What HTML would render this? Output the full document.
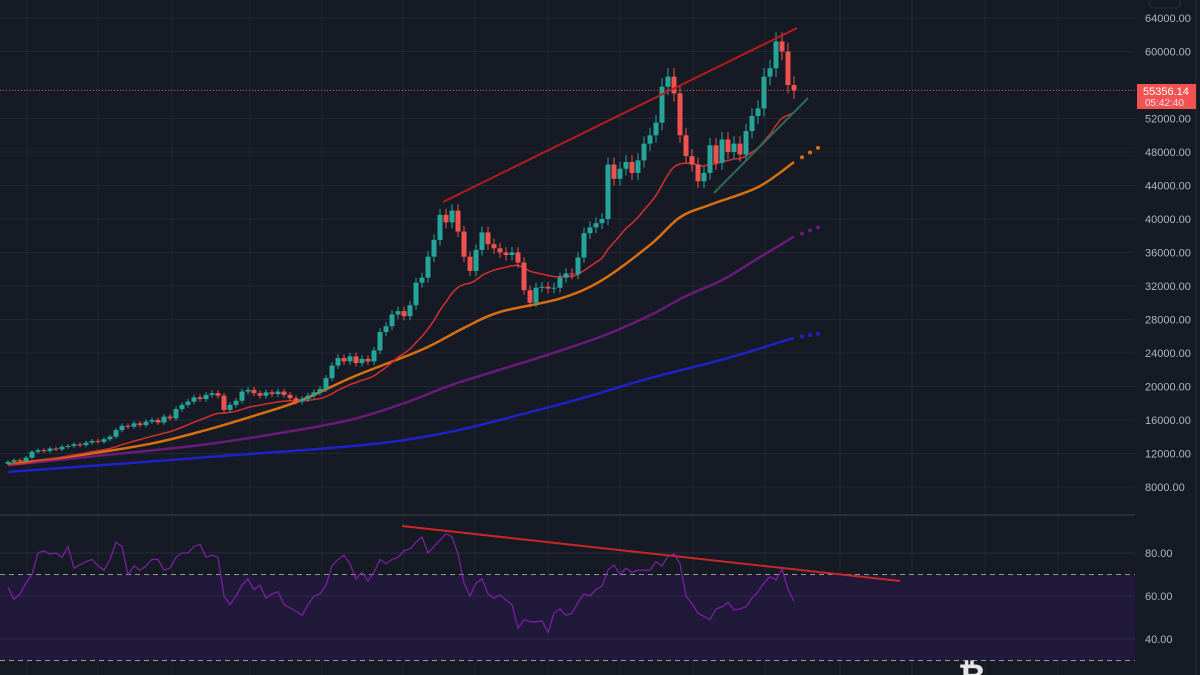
<!DOCTYPE html>
<html><head><meta charset="utf-8"><style>
html,body{margin:0;padding:0;background:#161a25;}
svg{display:block;font-family:"Liberation Sans",sans-serif;}
</style></head><body>
<svg id="c" width="1200" height="675" viewBox="0 0 1200 675"></svg>
<script>
const closes=[11000,11200,11100,11500,12200,12400,12300,12600,12500,12800,
12900,13100,13000,13300,13500,13400,13700,14000,14800,15300,
15200,15600,15400,15800,16000,15700,16400,16200,17300,17800,
18200,18700,18500,19000,19200,18900,17200,17800,18300,19400,
19600,19200,18900,19300,19100,19400,19000,18600,18200,18500,
18900,19300,19700,21000,22500,23400,23000,23600,22800,23300,
23000,24300,26500,27200,28600,29000,28400,29700,32400,33000,
35500,37500,40500,39600,41000,38500,35500,33800,36300,38400,
37000,36500,36000,35700,36000,34800,31500,30000,31800,31900,
31700,31800,33000,33500,33400,35400,38300,39000,39500,40000,
46500,44800,46000,46800,45500,47000,49000,50000,51500,55800,
57000,55000,50000,47500,46500,44500,45500,48800,46700,49500,
48000,49000,47700,50500,52300,53200,57000,58000,61200,60000,56000,55356];
const rsi=[64,58.5,61,66,70,80,81,79.5,80,78,83,73,74.5,76,77,74,72,77,85,83,
70,74,72,74,77,77,72,73,78,80,80,83,84,78,79,78,60,56,60,65,
68,63,65,59,61,62,56,54.5,53,51,56,60,61,65,74,77,79,75,68,71,
67,71,77,75,77,78,81,82,85,87.5,80,83,86,89,87.5,79.5,66,60,66,68,
61,59,60.5,58,56,45,49,48,48,48.5,43,52,54,51,52,57,61,60,63,64.5,
72,74.5,70,73,71,72,72,72,76,74,78.5,79.5,75,60,56.5,52,50.5,49,54,55,
57,53.5,54,55,59,62,66,69,67.5,72.5,63,57.5];
// moving averages sampled at candle indices
const orangeIdx=[0,12,24,33,41,49,58,69,76,82,92,99,107,112,117,125,131,135];
const orangeMA=[10700,11800,13200,14800,16500,18400,21300,24400,27000,28900,30500,32700,36900,40200,41700,43800,46800,48500];
const purpleIdx=[0,16,32,45,57,66,74,82,90,99,107,113,119,125,131,135];
const purpleMA=[10600,11800,13000,14400,16000,18000,20200,22000,23800,26000,28500,30800,32700,35300,37900,39000];
const blueIdx=[0,32,66,90,107,119,131,135];
const blueMA=[9800,11500,13600,17500,21000,23200,25800,26300];
const priceTicks=[64000,60000,52000,48000,44000,40000,36000,32000,28000,24000,20000,16000,12000,8000];
const rsiTicks=[80,60,40];
const lastPrice="55356.14", countdown="05:42:40";

const S=document.getElementById('c');const NS='http://www.w3.org/2000/svg';
function mk(t,a,p){const e=document.createElementNS(NS,t);for(const k in a)e.setAttribute(k,a[k]);(p||S).appendChild(e);return e;}
const X=i=>8+6*i;
const Y=v=>18+(64000-v)/4000*33.5;
const RY=v=>553+(80-v)/20*43;
function smooth(pts){let d='M'+pts[0][0]+','+pts[0][1];
 for(let i=0;i<pts.length-1;i++){const p0=pts[i-1]||pts[i],p1=pts[i],p2=pts[i+1],p3=pts[i+2]||p2;
  const c1=[p1[0]+(p2[0]-p0[0])/6,p1[1]+(p2[1]-p0[1])/6],c2=[p2[0]-(p3[0]-p1[0])/6,p2[1]-(p3[1]-p1[1])/6];
  d+='C'+c1[0]+','+c1[1]+' '+c2[0]+','+c2[1]+' '+p2[0]+','+p2[1];}return d;}
// grid
const gx=[27,98,172,250,322,403,475,548,620,693,765,840,912,985,1058];
gx.forEach(x=>{mk('line',{x1:x,y1:0,x2:x,y2:675,stroke:'#232734','stroke-width':1});});
priceTicks.forEach(v=>{mk('line',{x1:0,y1:Y(v),x2:1135,y2:Y(v),stroke:'#232734'});});
// rsi pane
mk('line',{x1:0,y1:515,x2:1200,y2:515,stroke:'#2a2e39','stroke-width':2});
mk('rect',{x:0,y:575,width:1135,height:86,fill:'#21193a'});
rsiTicks.forEach(v=>{mk('line',{x1:0,y1:RY(v),x2:1135,y2:RY(v),stroke:'#2c2a45'});});
[70,30].forEach(v=>{mk('line',{x1:0,y1:RY(v),x2:1135,y2:RY(v),stroke:'#9598a1','stroke-dasharray':'5,4'});});
function maDraw(idx,vals,col,w,name){
 const pts=[];for(let k=0;k<vals.length-1;k++)pts.push([X(idx[k]),Y(vals[k])]);
 const p=mk('path',{d:smooth(pts),fill:'none',stroke:col,'stroke-width':w,'stroke-linejoin':'round'});
 
 
 const n=vals.length-1;for(let j=1;j<=3;j++){const t=j/3;const x=X(idx[n-1])+(X(idx[n])-X(idx[n-1]))*t;const y=Y(vals[n-1]+(vals[n]-vals[n-1])*t);mk('circle',{cx:x,cy:y,r:2,fill:col});}}
maDraw(blueIdx,blueMA,'#1e22c8',2.5,'ma-200-line');
maDraw(purpleIdx,purpleMA,'#6a1b7a',2.5,'ma-100-line');
maDraw(orangeIdx,orangeMA,'#d9700f',2.5,'ma-50-line');
// red EMA20 from closes
let e=closes[0]*0.97;const a=2/21;const ep=[];
closes.forEach((c,i)=>{e=i==0?e:e+a*(c-e);ep.push([X(i),Y(e)]);});
const rp=mk('path',{d:smooth(ep),fill:'none',stroke:'#d32f2f','stroke-width':1.5});


// candles
closes.forEach((c,i)=>{const o=i?closes[i-1]:c*0.98;const up=c>=o;const col=up?'#26a69a':'#ef5350';
 const hi=Math.max(o,c)*1.018,lo=Math.min(o,c)*0.982;
 const g=mk('g',{});
 
 
 mk('line',{x1:X(i),y1:Y(hi),x2:X(i),y2:Y(lo),stroke:col,'stroke-width':1},g);
 const y1=Y(Math.max(o,c)),h=Math.max(1,Y(Math.min(o,c))-y1);
 mk('rect',{x:X(i)-2.5,y:y1,width:5,height:h,fill:col},g);});
// trendlines
const t1=mk('line',{x1:443,y1:202,x2:797,y2:28,stroke:'#b71c1c','stroke-width':2});

const t2=mk('line',{x1:714,y1:193,x2:808,y2:98,stroke:'#2e6b54','stroke-width':2});

// price line
mk('line',{x1:0,y1:Y(55356),x2:1135,y2:Y(55356),stroke:'#ef5350','stroke-dasharray':'1,2','stroke-width':1});
// rsi line
let rd='';rsi.forEach((v,i)=>{rd+=(i?'L':'M')+X(i)+','+RY(v);});
const rl=mk('path',{d:rd,fill:'none',stroke:'#7b1fa2','stroke-width':1.3});

const t3=mk('line',{x1:402,y1:526,x2:900,y2:581,stroke:'#c62828','stroke-width':2});

// axis
mk('rect',{x:1135,y:0,width:65,height:675,fill:'#161a25'});
mk('line',{x1:1196,y1:0,x2:1196,y2:675,stroke:'#2a2e39'});
mk('rect',{x:1150,y:-4,width:30,height:12,rx:3,fill:'none',stroke:'#2a2e39'});
priceTicks.forEach(v=>{const t=mk('text',{x:1145,y:Y(v)+4,fill:'#b2b5be','font-size':11});t.textContent=v.toFixed(2);
 });
rsiTicks.forEach(v=>{const t=mk('text',{x:1145,y:RY(v)+4,fill:'#b2b5be','font-size':11});t.textContent=v.toFixed(2);
 });
const lb=mk('g',{});
mk('rect',{x:1137,y:84,width:59,height:25,fill:'#f05350'},lb);
const l1=mk('text',{x:1143,y:95,fill:'#fff','font-size':11},lb);l1.textContent=lastPrice;
const l2=mk('text',{x:1145,y:106,fill:'#fde','font-size':10},lb);l2.textContent=countdown;
// logo fragment
const b=mk('text',{x:958,y:688,fill:'#e6e6e6','font-size':34,'font-weight':'bold'});b.textContent='₿';

</script>
</body></html>
